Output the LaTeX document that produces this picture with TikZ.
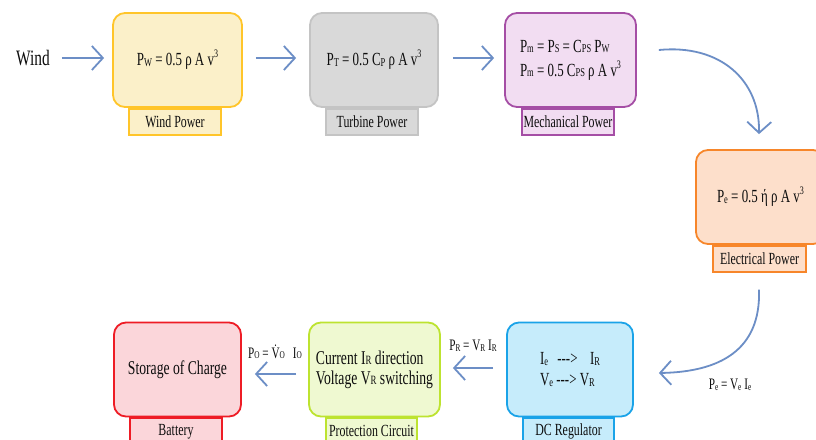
\documentclass[tikz,border=0pt]{standalone}
\usepackage{fontspec}
\setmainfont{Liberation Serif}[FakeStretch=0.7]
\usepackage{graphicx}
\usetikzlibrary{arrows.meta}
\newcommand{\sbs}[1]{\raisebox{-0.5pt}{\scalebox{0.65}{#1}}}
\newcommand{\cube}{\raisebox{0.42em}{\scalebox{0.62}{3}}}
\definecolor{ybd}{HTML}{FFC52A}\definecolor{yfl}{HTML}{FBF0C9}
\definecolor{gbd}{HTML}{C4C4C4}\definecolor{gfl}{HTML}{D9D9D9}
\definecolor{pbd}{HTML}{A54EA5}\definecolor{pfl}{HTML}{F2DDF2}
\definecolor{obd}{HTML}{F7862A}\definecolor{ofl}{HTML}{FDDFCB}
\definecolor{bbd}{HTML}{1AA3E8}\definecolor{bfl}{HTML}{C6ECFB}
\definecolor{lbd}{HTML}{BDE330}\definecolor{lfl}{HTML}{EFF9D1}
\definecolor{rbd}{HTML}{EE1C25}\definecolor{rfl}{HTML}{FBD6DA}
\definecolor{arrowc}{HTML}{6C8EC6}
\definecolor{txt}{HTML}{0D0D0D}
\begin{document}
\begin{tikzpicture}[x=1pt,y=-1pt,
  box/.style n args={3}{draw=#1,fill=#2,rounded corners=12pt,line width=1.8pt,
    minimum height=94pt,minimum width=#3,inner sep=0pt,align=left,text=txt,
    font=\fontsize{18.5}{24}\selectfont},
  lab/.style n args={3}{draw=#1,fill=#2,line width=1.8pt,minimum height=26pt,
    minimum width=#3,inner sep=0pt,anchor=north,text=txt,
    font=\fontsize{17}{18}\selectfont},
  elab/.style={inner sep=0pt,text=txt,font=\fontsize{16}{17}\selectfont},
  arr/.style={draw=arrowc,line width=1.8pt,
    -{Straight Barb[length=11pt,width=24pt]}}]
\useasboundingbox (0,0) rectangle (816,439);
\fill[white] (0,0) rectangle (816,439);

% top row
\node[inner sep=0pt,text=txt,font=\fontsize{22}{24}\selectfont] (wind) at (33,58) {Wind};
\node[box={ybd}{yfl}{129pt}] (wb) at (177.5,60) {P\sbs{W} = 0.5 ρ A v\cube};
\node[lab={ybd}{yfl}{92pt}] (wl) at ([xshift=-2.5pt]wb.south) {Wind Power};
\node[box={gbd}{gfl}{128pt}] (tb) at (374,60) {P\sbs{T} = 0.5 C\sbs{P} ρ A v\cube};
\node[lab={gbd}{gfl}{92pt}] (tl) at ([xshift=-2pt]tb.south) {Turbine Power};
\node[box={pbd}{pfl}{131pt}] (mb) at (570.5,60)
  {P\sbs{m} = P\sbs{S} = C\sbs{PS} P\sbs{W}\\P\sbs{m} = 0.5 C\sbs{PS} ρ A v\cube};
\node[lab={pbd}{pfl}{92pt}] (ml) at ([xshift=-2.5pt]mb.south) {Mechanical Power};

% right
\node[box={obd}{ofl}{129pt}] (eb) at (760.5,197) {P\sbs{e} = 0.5 ή ρ A v\cube};
\node[lab={obd}{ofl}{93pt}] (el) at ([xshift=-1pt]eb.south) {Electrical Power};

% bottom row
\node[box={bbd}{bfl}{126pt}] (db) at (570,369.5)
  {I\sbs{e}\enspace -{}-{}-> \enspace I\sbs{R}\\[-3pt]V\sbs{e} -{}-{}-> V\sbs{R}};
\node[lab={bbd}{bfl}{91pt}] (dl) at ([xshift=-1.5pt]db.south) {DC Regulator};
\node[box={lbd}{lfl}{131pt},font=\fontsize{19.5}{24}\selectfont] (pb) at (374.5,369.5)
  {Current I\sbs{R} direction\\[-4pt]Voltage V\sbs{R} switching};
\node[lab={lbd}{lfl}{91pt}] (pl) at ([xshift=-3pt]pb.south) {Protection Circuit};
\node[box={rbd}{rfl}{127pt},font=\fontsize{19.5}{24}\selectfont] (bb) at (177.5,369.5) {Storage of Charge};
\node[lab={rbd}{rfl}{92pt}] (bl) at ([xshift=-1.5pt]bb.south) {Battery};

% connectors
\draw[arr,shorten <=12pt,shorten >=8pt] (wind.east) -- (wind.east -| wb.west);
\draw[arr,shorten <=13pt,shorten >=13pt] ([yshift=2pt]wb.east) -- ([yshift=2pt]tb.west);
\draw[arr,shorten <=14pt,shorten >=10pt] ([yshift=2pt]tb.east) -- ([yshift=2pt]mb.west);
\draw[arr] ([shift={(22,-10)}]mb.east) .. controls (720,44) and (760,80) .. ([shift={(-1.5,-15)}]eb.north);
\draw[arr] ([shift={(-0.5,17)}]el.south) .. controls (761,350) and (720,372) .. ([shift={(25,3.5)}]db.east);
\draw[arr,shorten <=13pt,shorten >=12pt] ([yshift=1.5pt]db.west) -- ([yshift=1.5pt]pb.east);
\draw[arr,shorten <=12pt,shorten >=13pt] ([yshift=-4.5pt]pb.west) -- ([yshift=-4.5pt]bb.east);

% connector labels
\node[elab] (lpr) at (473,346) {P\sbs{R} = V\sbs{R} I\sbs{R}};
\node[elab] (lpe) at (730,385) {P\sbs{e} = V\sbs{e} I\sbs{e}};
\node[elab] (lpo) at (275,352) {P\sbs{O} = \.{V}\sbs{O}\enspace I\sbs{O}};
\end{tikzpicture}
\end{document}
